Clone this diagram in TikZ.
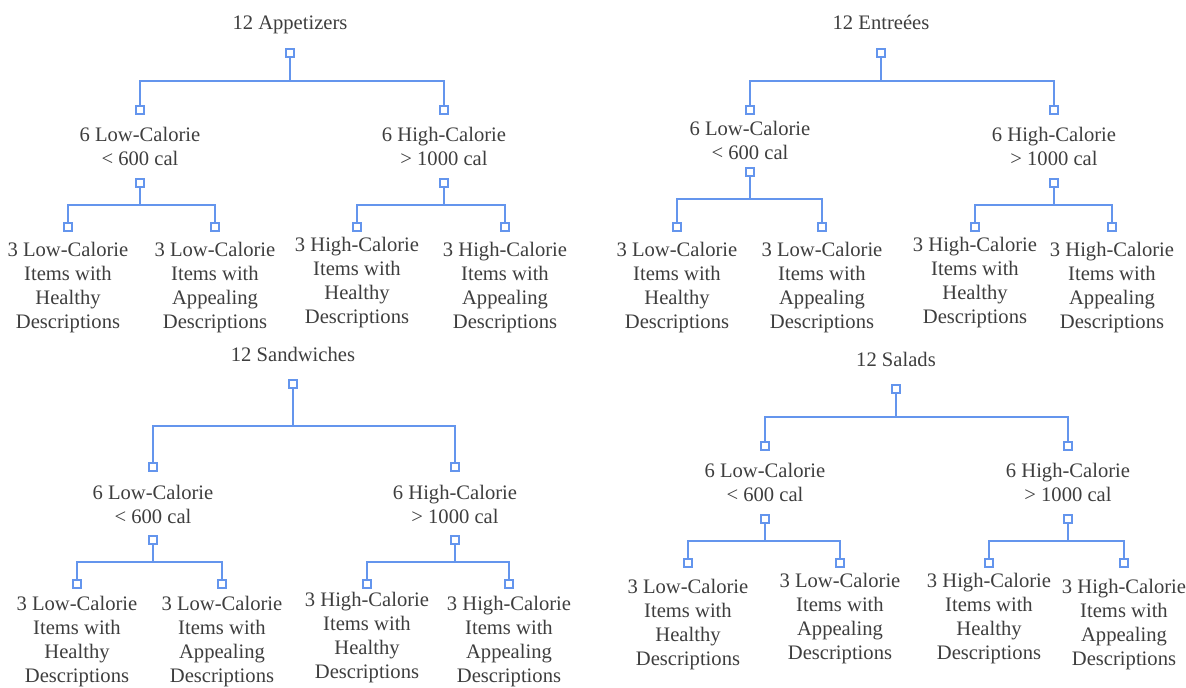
\documentclass[tikz,border=0pt]{standalone}
\usepackage{fontspec}
\setmainfont{Liberation Serif}
\definecolor{portblue}{RGB}{100,149,237}
\definecolor{labelgray}{RGB}{62,62,62}
\tikzset{
  lbl/.style={align=center, anchor=base, inner sep=0pt, text=labelgray, font=\fontsize{20.6}{24}\selectfont},
  port/.style={draw=portblue, fill=white, line width=1.3pt, minimum size=8pt, inner sep=0pt},
  link/.style={draw=portblue, line width=1.5pt},
}
\newcommand{\midlow}{6 Low-Calorie\\< 600 cal}
\newcommand{\midhigh}{6 High-Calorie\\> 1000 cal}
\newcommand{\leafLH}{3 Low-Calorie\\Items with\\Healthy\\Descriptions}
\newcommand{\leafLA}{3 Low-Calorie\\Items with\\Appealing\\Descriptions}
\newcommand{\leafHH}{3 High-Calorie\\Items with\\Healthy\\Descriptions}
\newcommand{\leafHA}{3 High-Calorie\\Items with\\Appealing\\Descriptions}
\begin{document}
\begin{tikzpicture}[x=1pt,y=-1pt]
    \useasboundingbox (0,0) rectangle (1186,688);
    % appetizers
    \node[lbl] (app) at (290,29) {12 Appetizers};
    \node[port] (app-r) at (290,53) {};
    \node[port] (app-l) at (140,110) {};
    \node[port] (app-h) at (444,110) {};
    \node[lbl] (app-l-txt) at (140,165) {\midlow};
    \node[lbl] (app-h-txt) at (444,165) {\midhigh};
    \node[port] (app-l2) at (140,183) {};
    \node[port] (app-h2) at (444,183) {};
    \node[port] (app-ll) at (68,227) {};
    \node[port] (app-lr) at (215,227) {};
    \node[port] (app-hl) at (357,227) {};
    \node[port] (app-hr) at (505,227) {};
    \node[lbl] (app-ll-txt) at (68,328) {\leafLH};
    \node[lbl] (app-lr-txt) at (215,328) {\leafLA};
    \node[lbl] (app-hl-txt) at (357,323) {\leafHH};
    \node[lbl] (app-hr-txt) at (505,328) {\leafHA};
    \coordinate (app-bar) at (290,81);
    \coordinate (app-lbar) at (140,205);
    \coordinate (app-hbar) at (444,205);
    \draw[link] (app-r) -- (app-bar) -| (app-l);
    \draw[link] (app-bar) -| (app-h);
    \draw[link] (app-l2) -- (app-lbar) -| (app-ll);
    \draw[link] (app-lbar) -| (app-lr);
    \draw[link] (app-h2) -- (app-hbar) -| (app-hl);
    \draw[link] (app-hbar) -| (app-hr);
    % entrees
    \node[lbl] (ent) at (881,29) {12 Entreées};
    \node[port] (ent-r) at (881,53) {};
    \node[port] (ent-l) at (750,110) {};
    \node[port] (ent-h) at (1054,110) {};
    \node[lbl] (ent-l-txt) at (750,159) {\midlow};
    \node[lbl] (ent-h-txt) at (1054,165) {\midhigh};
    \node[port] (ent-l2) at (750,172) {};
    \node[port] (ent-h2) at (1054,183) {};
    \node[port] (ent-ll) at (677,227) {};
    \node[port] (ent-lr) at (822,227) {};
    \node[port] (ent-hl) at (975,227) {};
    \node[port] (ent-hr) at (1112,227) {};
    \node[lbl] (ent-ll-txt) at (677,328) {\leafLH};
    \node[lbl] (ent-lr-txt) at (822,328) {\leafLA};
    \node[lbl] (ent-hl-txt) at (975,323) {\leafHH};
    \node[lbl] (ent-hr-txt) at (1112,328) {\leafHA};
    \coordinate (ent-bar) at (881,81);
    \coordinate (ent-lbar) at (750,199);
    \coordinate (ent-hbar) at (1054,205);
    \draw[link] (ent-r) -- (ent-bar) -| (ent-l);
    \draw[link] (ent-bar) -| (ent-h);
    \draw[link] (ent-l2) -- (ent-lbar) -| (ent-ll);
    \draw[link] (ent-lbar) -| (ent-lr);
    \draw[link] (ent-h2) -- (ent-hbar) -| (ent-hl);
    \draw[link] (ent-hbar) -| (ent-hr);
    % sandwiches
    \node[lbl] (snd) at (293,361) {12 Sandwiches};
    \node[port] (snd-r) at (293,384) {};
    \node[port] (snd-l) at (153,467) {};
    \node[port] (snd-h) at (455,467) {};
    \node[lbl] (snd-l-txt) at (153,523) {\midlow};
    \node[lbl] (snd-h-txt) at (455,523) {\midhigh};
    \node[port] (snd-l2) at (153,540) {};
    \node[port] (snd-h2) at (455,540) {};
    \node[port] (snd-ll) at (77,584) {};
    \node[port] (snd-lr) at (222,584) {};
    \node[port] (snd-hl) at (367,584) {};
    \node[port] (snd-hr) at (509,584) {};
    \node[lbl] (snd-ll-txt) at (77,682) {\leafLH};
    \node[lbl] (snd-lr-txt) at (222,682) {\leafLA};
    \node[lbl] (snd-hl-txt) at (367,678) {\leafHH};
    \node[lbl] (snd-hr-txt) at (509,682) {\leafHA};
    \coordinate (snd-bar) at (293,426);
    \coordinate (snd-lbar) at (153,562);
    \coordinate (snd-hbar) at (455,562);
    \draw[link] (snd-r) -- (snd-bar) -| (snd-l);
    \draw[link] (snd-bar) -| (snd-h);
    \draw[link] (snd-l2) -- (snd-lbar) -| (snd-ll);
    \draw[link] (snd-lbar) -| (snd-lr);
    \draw[link] (snd-h2) -- (snd-hbar) -| (snd-hl);
    \draw[link] (snd-hbar) -| (snd-hr);
    % salads
    \node[lbl] (sal) at (896,366) {12 Salads};
    \node[port] (sal-r) at (896,389) {};
    \node[port] (sal-l) at (765,446) {};
    \node[port] (sal-h) at (1068,446) {};
    \node[lbl] (sal-l-txt) at (765,501) {\midlow};
    \node[lbl] (sal-h-txt) at (1068,501) {\midhigh};
    \node[port] (sal-l2) at (765,519) {};
    \node[port] (sal-h2) at (1068,519) {};
    \node[port] (sal-ll) at (688,563) {};
    \node[port] (sal-lr) at (840,563) {};
    \node[port] (sal-hl) at (989,563) {};
    \node[port] (sal-hr) at (1124,563) {};
    \node[lbl] (sal-ll-txt) at (688,665) {\leafLH};
    \node[lbl] (sal-lr-txt) at (840,659) {\leafLA};
    \node[lbl] (sal-hl-txt) at (989,659) {\leafHH};
    \node[lbl] (sal-hr-txt) at (1124,665) {\leafHA};
    \coordinate (sal-bar) at (896,417);
    \coordinate (sal-lbar) at (765,541);
    \coordinate (sal-hbar) at (1068,541);
    \draw[link] (sal-r) -- (sal-bar) -| (sal-l);
    \draw[link] (sal-bar) -| (sal-h);
    \draw[link] (sal-l2) -- (sal-lbar) -| (sal-ll);
    \draw[link] (sal-lbar) -| (sal-lr);
    \draw[link] (sal-h2) -- (sal-hbar) -| (sal-hl);
    \draw[link] (sal-hbar) -| (sal-hr);
\end{tikzpicture}
\end{document}
